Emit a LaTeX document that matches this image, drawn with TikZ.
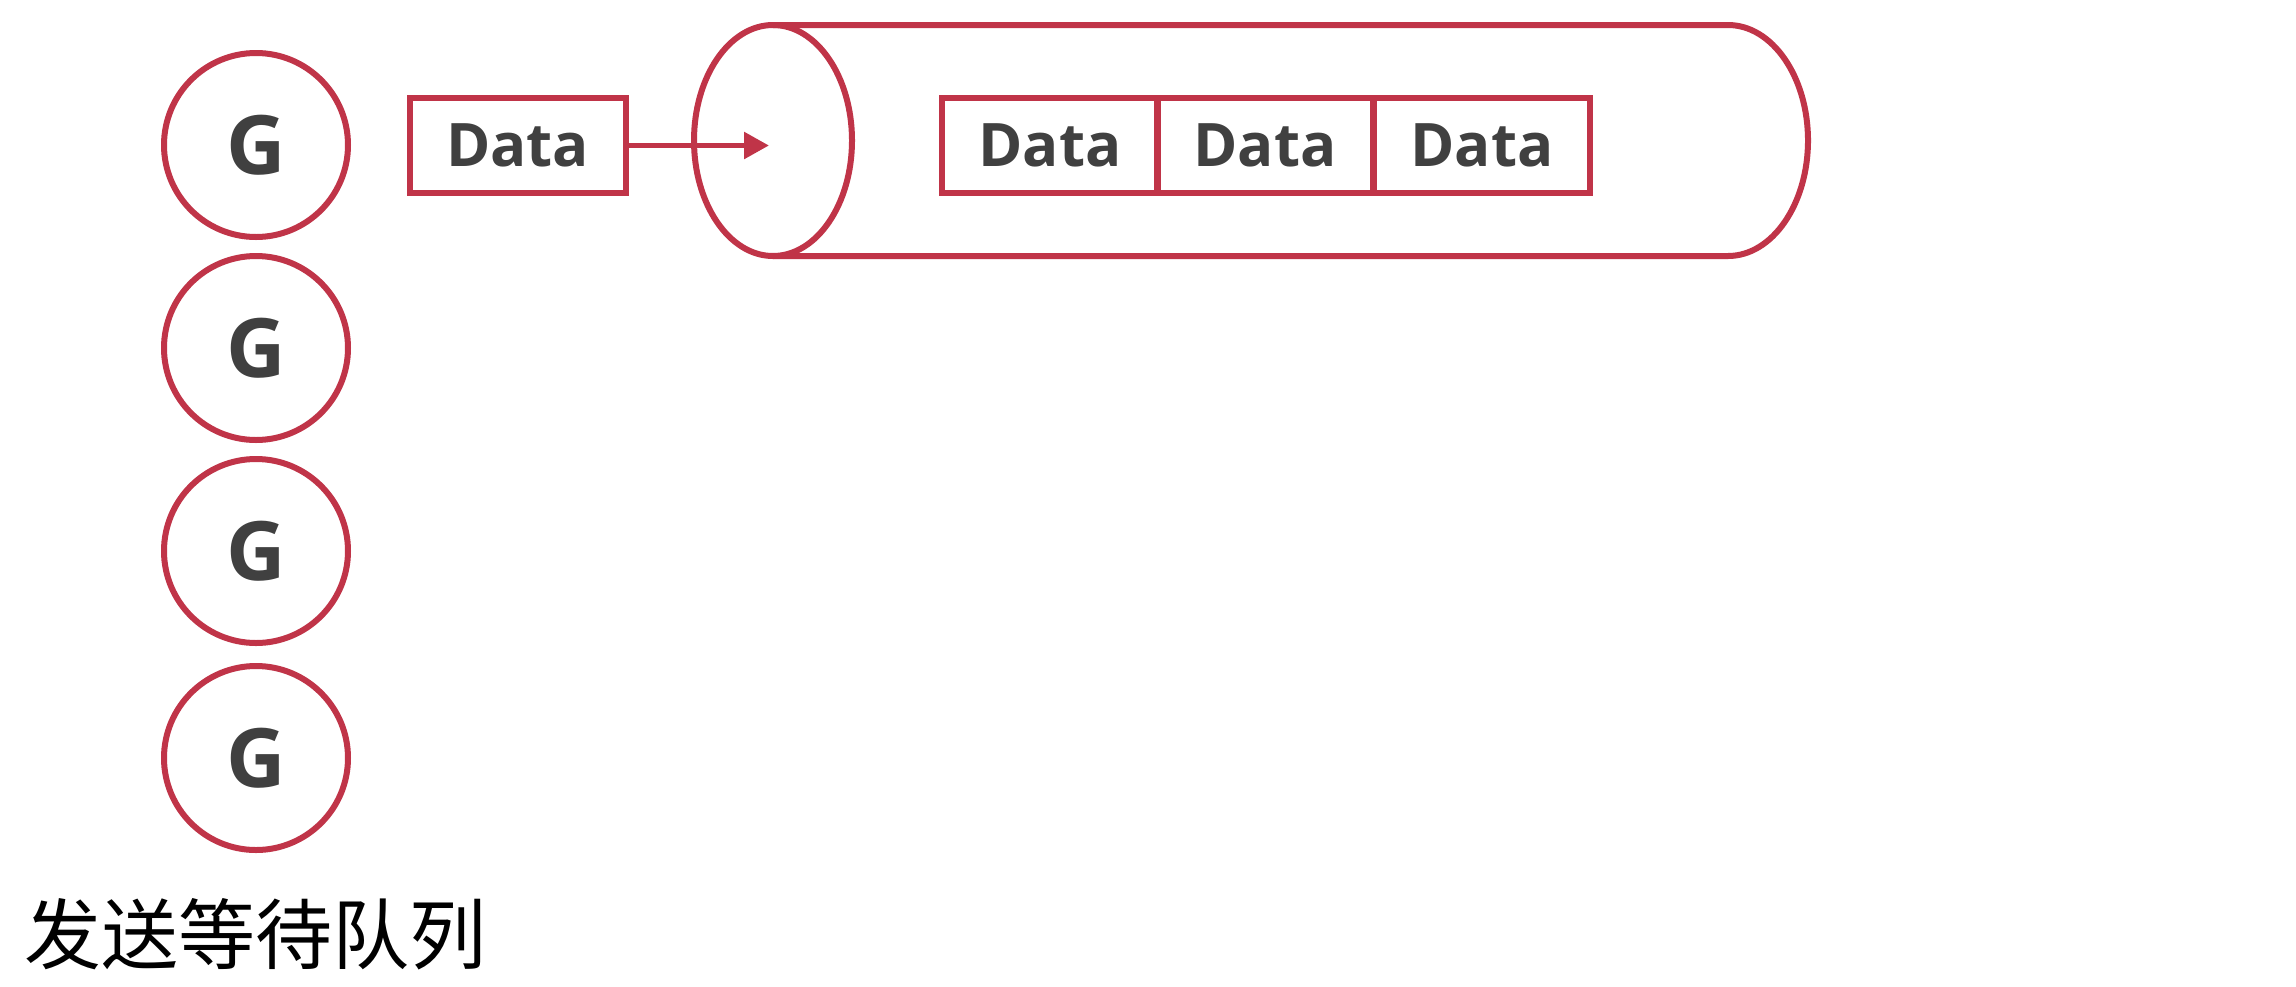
\documentclass[tikz,border=0pt]{standalone}
\usepackage{fontspec}
\setmainfont{Open Sans}
\newfontfamily\cjk{Noto Sans CJK SC}
\usetikzlibrary{arrows.meta}
\definecolor{qred}{RGB}{192,52,72}
\definecolor{qtext}{RGB}{64,64,64}
\tikzset{
  gnode/.style={circle, draw=qred, line width=3pt, minimum size=92pt, inner sep=0pt,
    text=qtext, font=\fontsize{41}{44}\selectfont\bfseries},
  databox/.style={rectangle, draw=qred, line width=3pt, minimum width=108pt, minimum height=47.5pt,
    inner sep=0pt, text=qtext, font=\fontsize{30}{32}\selectfont\bfseries},
  pipe/.style={draw=qred, line width=3pt},
  flow/.style={draw=qred, line width=2.8pt, -{Triangle[length=12.5pt,width=13pt]}}
}
\begin{document}
\begin{tikzpicture}[x=0.5pt,y=-0.5pt]
\useasboundingbox[fill=white] (0,0) rectangle (2296,986);
% goroutines
\node[gnode] (g1) at (256,145) {G};
\node[gnode] (g2) at (256,348) {G};
\node[gnode] (g3) at (256,551) {G};
\node[gnode] (g4) at (256,758) {G};
% channel pipe
\draw[pipe] (773,25) -- (1728,25) arc[start angle=90, end angle=-90, x radius=80, y radius=-115.5] -- (773,256);
\draw[pipe] (773,140.5) ellipse[x radius=79, y radius=115.5];
% sending data
\node[databox] (d0) at (517.5,145.5) {Data};
\coordinate (qin) at (769,145.5);
\draw[flow] (d0.east) -- (qin);
% buffered data
\node[databox] (b1) at (1050,145) {Data};
\node[databox] (b2) at (1265,145) {Data};
\node[databox] (b3) at (1482,145) {Data};
% caption
\node[anchor=south west, inner sep=0pt, font=\cjk\fontsize{38.5}{40}\selectfont] (cap) at (24,970) {发送等待队列};
\end{tikzpicture}
\end{document}
